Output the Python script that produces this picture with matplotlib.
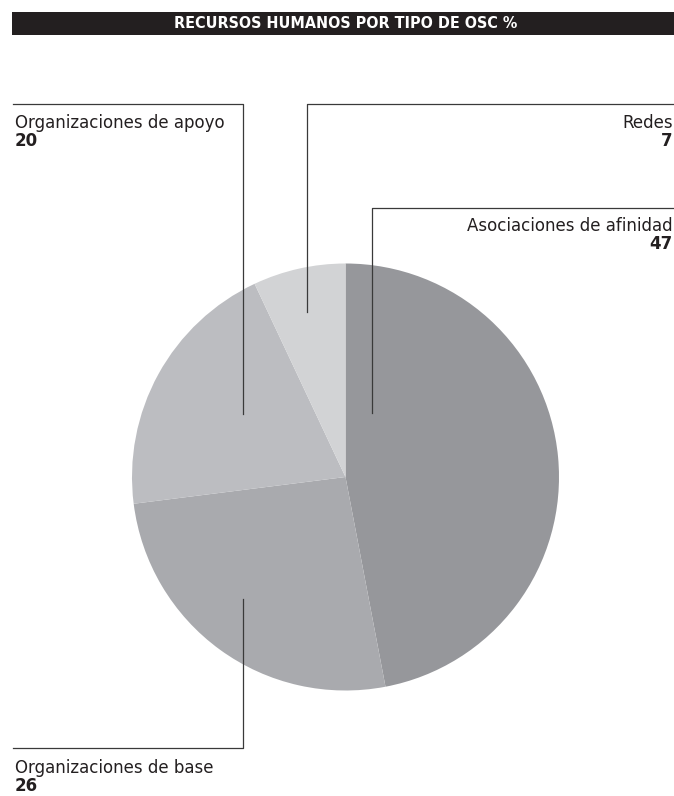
import matplotlib.pyplot as plt
from matplotlib.patches import Rectangle

# data
names = ['Asociaciones de afinidad', 'Organizaciones de base',
         'Organizaciones de apoyo', 'Redes']
size = [47, 26, 20, 7]
colors = ['#96979b', '#a9aaae', '#bcbdc1', '#d2d3d5']
title = 'RECURSOS HUMANOS POR TIPO DE OSC %'

W, H = 674, 796
fig = plt.figure(figsize=(W / 100, H / 100), dpi=100)
ax = fig.add_axes([0, 0, 1, 1])

def Y(y):
    # pixel row from the top -> data y
    return H - y

ax.pie(size, colors=colors, startangle=90, counterclock=False,
       center=(345.5, Y(477)), radius=213.5, frame=True,
       wedgeprops=dict(linewidth=0))

ax.set_xlim(0, W)
ax.set_ylim(0, H)
ax.set_aspect('auto')
ax.axis('off')

# title bar
ax.add_patch(Rectangle((12, Y(35)), W - 12, 23, facecolor='#231f20',
                       edgecolor='none', zorder=5))
ax.text(346, Y(23.5), title, color='white', fontsize=11.5, fontweight='bold',
        family='DejaVu Sans', fontstretch='condensed',
        ha='center', va='center', zorder=6)

lc = '#3a3a3a'
lw = 0.9
# leader lines
ax.plot([13, 243, 243], [Y(104), Y(104), Y(414)], color=lc, lw=lw)      # apoyo
ax.plot([674, 307, 307], [Y(104), Y(104), Y(312)], color=lc, lw=lw)     # redes
ax.plot([674, 372, 372], [Y(208), Y(208), Y(413)], color=lc, lw=lw)     # afinidad
ax.plot([243, 243, 13], [Y(599), Y(748), Y(748)], color=lc, lw=lw)      # base

fam = 'DejaVu Sans'
fs = 12
tc = '#231f20'

def label(x, y, name, val, ha):
    # y: baseline of the name row (pixels from top)
    ax.text(x, Y(y), name, fontsize=fs, family=fam, color=tc, ha=ha, va='baseline')
    ax.text(x, Y(y + 18), str(val), fontsize=fs, family=fam, color=tc,
            fontweight='bold', ha=ha, va='baseline')

label(15, 128, names[2], size[2], 'left')
label(673, 128, names[3], size[3], 'right')
label(673, 231, names[0], size[0], 'right')
label(15, 773, names[1], size[1], 'left')

plt.savefig('out.png', dpi=100)
